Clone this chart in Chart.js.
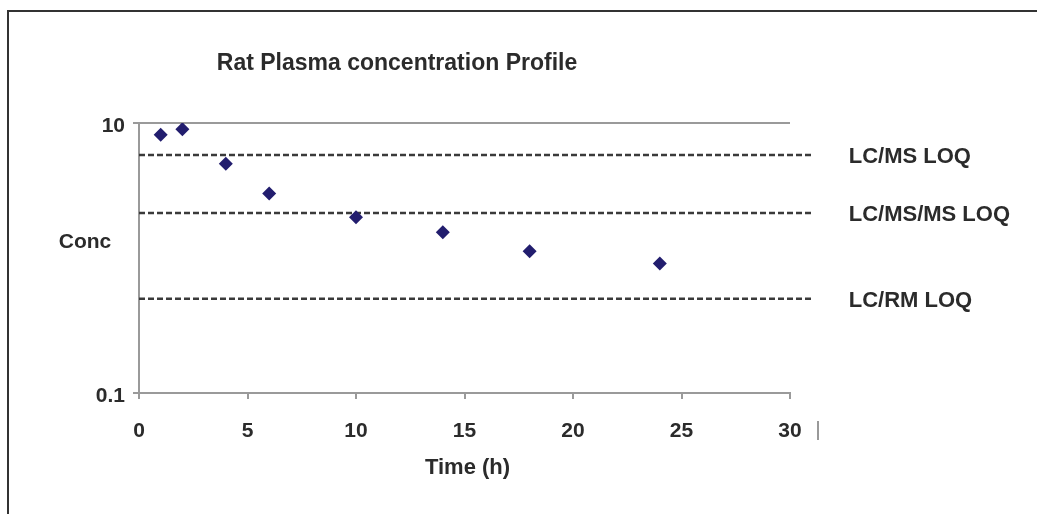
<!DOCTYPE html>
<html>
<head>
<meta charset="utf-8">
<script src="https://cdn.jsdelivr.net/npm/chart.js@4"></script>
<style>
html, body { margin: 0; padding: 0; background: #fff; }
#frame { position: absolute; left: 7px; top: 10px; right: 0; bottom: 0; border-top: 2px solid #333; border-left: 2px solid #333; }
#chart0 { position: absolute; left: 0; top: 0; }
</style>
</head>
<body>
<div id="frame"></div>
<canvas id="chart0" width="1037" height="514"></canvas>
<script>
// sampling times (h) and measured plasma concentration
const times = [1, 2, 4, 6, 10, 14, 18, 24];
const concs = [8.2, 9.0, 5.0, 3.0, 2.0, 1.55, 1.12, 0.91];

// limits of quantitation, drawn as dashed lines
const loqNames = ["LC/MS LOQ", "LC/MS/MS LOQ", "LC/RM LOQ"];
const loqValues = [5.8, 2.15, 0.5];
const loqSpan = [0, 31];

const yTicks = [0.1, 10];
const chartTitle = "Rat Plasma concentration Profile";
const xTitle = "Time (h)";
const yTitle = "Conc";

const textCol = "#2b2b2b";
const axisCol = "#9a9a9a";
const font = '"Liberation Sans", Arial, sans-serif';

//titles, LOQ labels and the stray mark after 30
const textPlugin = {
    id: "texts",
    afterDraw(chart) {
        const ctx = chart.ctx;
        const xs = chart.scales.x, ys = chart.scales.y;
        const area = chart.chartArea;
        ctx.save();
        ctx.fillStyle = textCol;
        ctx.textBaseline = "middle";

        ctx.font = "bold 23px " + font;
        ctx.textAlign = "center";
        ctx.fillText(chartTitle, 397, 64);

        ctx.font = "bold 21px " + font;
        ctx.fillText(yTitle, 85, 242);
        ctx.font = "bold 22px " + font;
        ctx.fillText(xTitle, (area.left + area.right) / 2 + 3, 468);

        ctx.font = "bold 22px " + font;
        ctx.textAlign = "left";
        for (let i = 0; i < loqNames.length; i++) {
            ctx.fillText(loqNames[i], xs.getPixelForValue(loqSpan[1]) + 37, ys.getPixelForValue(loqValues[i]) + 2);
        }

        ctx.strokeStyle = "#777";
        ctx.lineWidth = 1.5;
        ctx.beginPath();
        ctx.moveTo(818, 421);
        ctx.lineTo(818, 440);
        ctx.stroke();
        ctx.restore();
    }
};

var datasets = [{
    type: "scatter",
    data: times.map((t, i) => ({x: t, y: concs[i]})),
    pointStyle: "rectRot",
    pointRadius: 7,
    backgroundColor: "#221d6e",
    borderColor: "#221d6e",
    borderWidth: 0
}];

for (i = 0; i < loqValues.length; i++) {
    datasets.push({
        type: "line",
        label: loqNames[i],
        data: loqSpan.map(x => ({x: x, y: loqValues[i]})),
        borderColor: "#3a3a3a",
        borderWidth: 2.5,
        borderDash: [6, 3],
        pointRadius: 0,
        clip: false
    });
}

var ctx = document.getElementById("chart0").getContext("2d");
var chart = new Chart(ctx, {
    data: {datasets: datasets},
    options: {
        responsive: false,
        animation: false,
        layout: {padding: {left: 0, top: 123, right: 247, bottom: 0}},
        plugins: {legend: {display: false}, tooltip: {enabled: false}},
        scales: {
            x: {
                type: "linear",
                min: 0,
                max: 30,
                afterFit: s => { s.height = 121; },
                ticks: {stepSize: 5, padding: 20, color: textCol, font: {family: font, size: 21, weight: "bold"}},
                grid: {drawOnChartArea: false, tickLength: 6, color: axisCol, lineWidth: 2},
                border: {color: axisCol, width: 2}
            },
            y: {
                type: "logarithmic",
                min: 0.1,
                max: 10,
                afterFit: s => { s.width = 139; },
                afterBuildTicks: s => { s.ticks = yTicks.map(v => ({value: v})); },
                ticks: {
                    padding: 8,
                    labelOffset: 3,
                    color: textCol,
                    font: {family: font, size: 21, weight: "bold"},
                    callback: v => String(v)
                },
                grid: {tickLength: 6, color: axisCol, lineWidth: 2},
                border: {color: axisCol, width: 2}
            }
        }
    },
    plugins: [textPlugin]
});
</script>
</body>
</html>
